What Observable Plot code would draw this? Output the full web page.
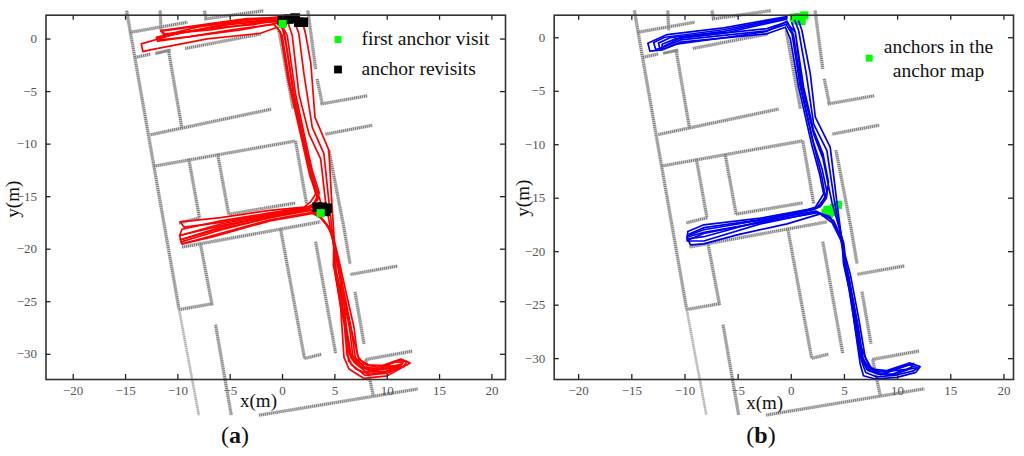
<!DOCTYPE html>
<html>
<head>
<meta charset="utf-8">
<script src="https://cdn.jsdelivr.net/npm/d3@7"></script>
<script src="https://cdn.jsdelivr.net/npm/@observablehq/plot@0.6"></script>
<style>
  html,body{margin:0;padding:0;background:#fff;}
  #fig{display:flex;width:1024px;height:456px;overflow:hidden;}
  .panel{width:512px;flex:none;}
  .panel svg{display:block;overflow:visible;}
  .cap{font-family:"Liberation Serif",serif;font-size:24px;color:#111;height:36px;line-height:30px;position:relative;}
  .cap span{position:absolute;transform:translateX(-50%);top:0;}
</style>
</head>
<body>
<div id="fig"><div class="panel" id="a"></div><div class="panel" id="b"></div></div>
<script>
// axis ticks
const xTicks = [-20,-15,-10,-5,0,5,10,15,20];
const yTicks = [0,-5,-10,-15,-20,-25,-30];

// walls of the map, read in panel (a) units
const walls = [
  [[-14.9,2.7],[-9.9,-25.65]],
  [[-14.6,0.63],[-9.1,1.6]],
  [[-11.7,2.7],[-11.6,0.8]],
  [[-7.46,2.7],[-7.3,1.9]],
  [[-7.46,1.9],[-1.8,2.7]],
  [[-9.3,-0.9],[-2.1,0.48]],
  [[-14.07,-1.75],[-12.6,-1.43]],
  [[-10.9,-1.05],[-9.6,-8.57]],
  [[-12.6,-9.1],[-1.08,-6.67]],
  [[-0.35,0.8],[1.02,-6.67]],
  [[2.42,2.7],[3.16,-2.86]],
  [[3.3,-3.8],[3.8,-6.2]],
  [[3.64,-6.19],[8.1,-5.4]],
  [[4.1,-9.05],[8.6,-8.2]],
  [[-12.3,-12.1],[1.24,-9.7]],
  [[1.24,-9.7],[2.3,-15.7]],
  [[-8.96,-11.4],[-7.94,-17]],
  [[-6.2,-10.95],[-5.14,-16.7]],
  [[-5.14,-16.67],[1.24,-15.6]],
  [[-9.9,-17.5],[-7.85,-17]],
  [[4.43,-10.6],[5.87,-18],[6.44,-21.36]],
  [[-9.6,-19.8],[3.6,-17.4]],
  [[-0.2,-18.03],[2.1,-30.4]],
  [[2.1,-30.4],[3.7,-30]],
  [[3.16,-19.3],[5.07,-29.9]],
  [[6.5,-22.4],[11,-21.6]],
  [[6.92,-24.06],[7.78,-29]],
  [[-7.85,-19.46],[-6.73,-25.33]],
  [[-9.9,-25.75],[-6.73,-25.2]],
  [[-6.4,-27.2],[-4.9,-35.8]],
  [[7.94,-30.5],[12.4,-29.7]],
  [[7.94,-30.5],[8.68,-34]],
  [[-2.26,-35.8],[12.9,-33.3]]
];
const wallsFaint = [
  [[-9.9,-25.65],[-8,-35.8]]
];
const wallsDark = [
  [[-12.15,-1.37],[-10.7,-1.05]]
];

// panel (a) trajectory passes
const redPass1 = [[-0.51,1.89],[-4.98,1.51],[-10.4,0.43],[-13.5,-0.46],[-13.34,-1.19],[-12.64,-1.03],[-7.2,0.02],[-2.1,0.55],[-0.51,1.13],[-0.03,0.33],[0.77,-4.6],[1.88,-9.35],[3,-14.1],[3.16,-14.74],[2.68,-15.5],[2.04,-16],[-1.2,-16.3],[-5.9,-17],[-9.76,-17.4],[-9.4,-17.9],[-5.9,-17.45],[-1.2,-16.65],[2.5,-16.1],[3.3,-16.65],[4.27,-17.76],[4.91,-19.03],[5.07,-20.6],[5.07,-22.36],[5.55,-25.54],[5.87,-30.3],[6.35,-31.4],[7.78,-32.3],[10,-32.05],[11.9,-31],[12.2,-30.84],[11.3,-30.46],[9.06,-31.25],[7.78,-30.94],[7.15,-30.14],[6.83,-27.45],[6.03,-23.95],[5.4,-21.1],[4.95,-19.2],[4.7,-15.5],[4.43,-10.6],[3.1,-7.45],[2.7,-2.3],[2.2,0.5],[1.9,1.6]];
const redPass2 = [[-0.51,2.08],[-3.39,1.83],[-8.17,1.13],[-12.06,0.17],[-11.93,-0.21],[-8.17,0.33],[-4.02,0.87],[-0.51,1.51],[0.1,1],[0.45,0.33],[1.24,-5.2],[2.2,-9.67],[2.84,-12.5],[3.5,-14.6],[3.3,-15.4],[2.5,-16],[-1.2,-16.55],[-5.9,-17.3],[-9.6,-18.1],[-9.83,-18.7],[-5.9,-17.75],[-1.2,-16.9],[2.6,-16.2],[3.5,-16.8],[4.4,-17.9],[4.85,-19.2],[5,-21],[5.1,-22],[5.75,-25.5],[6.15,-30],[6.6,-31],[7.9,-32],[10,-31.8],[11.6,-31.1],[11.9,-30.7],[11.1,-30.6],[9.2,-31.4],[7.8,-31.2],[6.95,-30.3],[6.55,-27.5],[5.85,-24],[5.3,-21],[4.85,-19.2],[4.43,-15.5],[3.95,-10.9],[2.84,-8.4],[2.04,-3.3],[1.56,0.5],[1.2,1.5]];
const redPass3 = [[-0.51,2.01],[-3.39,1.95],[-6.58,1.51],[-11.62,0.81],[-11.36,0.43],[-6.58,1.06],[-2.75,1.38],[-0.51,1.76],[0.05,1.1],[0.2,0.5],[1,-5],[2.05,-10],[2.9,-13.5],[3.3,-15],[2.9,-15.8],[2.3,-16],[-1.2,-16.75],[-5.9,-17.6],[-9.8,-18.7],[-9.76,-19.1],[-5.9,-18.05],[-1.2,-17],[2.7,-16.3],[3.6,-16.9],[4.5,-18],[4.85,-19.2],[5,-21],[5.05,-21.8],[5.9,-25.5],[6.35,-29.8],[6.85,-30.8],[8,-31.7],[9.9,-31.6],[11.3,-31.1],[11.5,-30.8],[10.6,-30.7],[9,-31.5],[7.6,-31.3],[6.75,-30.4],[6.4,-27.5],[5.7,-24],[5.15,-21],[4.8,-19.2],[4.11,-15.5],[3.64,-11.4],[2.52,-9.03],[1.56,-5.2],[0.93,0.33],[0.5,1.6]];
const redPass4 = [[-0.51,1.95],[-4.02,1.76],[-8.81,1.13],[-11.62,0.75],[-11.23,0.49],[-6.9,0.87],[-1.79,1.64],[-0.51,1.63],[0.02,0.9],[0.3,-0.3],[1.1,-5.2],[2.3,-10.6],[3.1,-13.8],[3.64,-15.5],[3,-16],[2.5,-16.1],[-1.2,-16.85],[-5.9,-17.9],[-9.76,-19.1],[-9.6,-19.5],[-6,-18.5],[-1.2,-17.2],[2.8,-16.5],[3.7,-17],[4.6,-18.2],[4.9,-19.5],[4.85,-21.5],[5.4,-24],[6,-27],[6.55,-30],[7.1,-30.6],[8.2,-31.5],[10,-31.4],[11,-31.1],[11.3,-30.95],[10.2,-31.2],[8.6,-31.65],[7.3,-31.1],[6.5,-30.3],[5.6,-25],[4.85,-21.5]];
const redPass5 = [[-0.51,1.8],[-5,1.4],[-9,0.7],[-12,0.1],[-11.9,-0.1],[-9,0.2],[-5,0.85],[-0.8,1.4],[-0.2,0.6],[0.55,-4],[1.7,-9],[2.6,-13],[3.4,-15.2],[2.8,-15.9],[2.5,-16.2],[-1.2,-17],[-6,-18.2],[-9.7,-19.3],[-9.6,-19.5],[-6.6,-18.8],[-1.2,-17.3],[2.9,-16.6],[3.8,-17.1],[4.7,-18.4],[4.95,-20],[5.05,-22.5],[5.65,-26],[6.1,-28],[6.3,-30.6],[7,-31.4],[8.3,-31.9],[10,-31.65],[11.2,-31.3],[11.5,-31.2],[10,-31.1],[8.2,-31],[7.3,-30.5],[6.65,-28],[5.7,-24],[5.2,-20.5]];

// panel (b) trajectory passes
const bluePass1 = [[-0.41,1.99],[-6.36,0.93],[-11.68,0.3],[-13.49,-0.51],[-13.3,-1.25],[-12.15,-1.13],[-10.42,-0.41],[-2.29,0.37],[-0.56,0.99],[-0.09,-0.1],[0.69,-4.62],[1.94,-10.08],[2.66,-12.73],[3.04,-14.6],[2.26,-15.85],[1.6,-16.05],[-2.91,-16.87],[-8.23,-17.49],[-9.73,-18.12],[-9.79,-18.8],[-8.23,-18.6],[-2.9,-17.15],[2.3,-16.2],[3.98,-17.09],[4.92,-19.12],[5.07,-20.36],[5.54,-22.08],[6.32,-26.13],[6.95,-29.87],[7.57,-30.97],[8.98,-31.12],[11.17,-30.4],[12.11,-30.75],[11.73,-31.28],[9.92,-31.75],[7.9,-31.9],[6.79,-31.6],[6.48,-30.5],[6.16,-28.3],[5.54,-23.95],[4.91,-21.14],[4.76,-18.96],[4.29,-15.38],[3.66,-10.23],[2.26,-7.43],[1.79,-3.37],[1,0.68],[0.7,1.55]];
const bluePass2 = [[-0.45,1.9],[-6.4,0.75],[-11.9,0.05],[-12.95,-0.45],[-12.75,-1.1],[-12.2,-0.95],[-10.4,-0.2],[-2.3,0.65],[-0.5,1.25],[0.07,0.37],[0.85,-4.62],[1.94,-9.3],[2.88,-13.04],[3.2,-14.91],[2.57,-15.7],[1.94,-16],[-2.91,-17.05],[-8.23,-17.95],[-9.79,-18.5],[-9.79,-19],[-8.23,-19],[-2.9,-17.4],[2.4,-16.3],[3.7,-16.85],[4.8,-18.9],[5,-20.5],[5.45,-22.5],[6.15,-26.5],[6.7,-29.9],[7.35,-31],[9,-31.3],[11,-30.55],[11.9,-30.85],[11.5,-31.15],[9.8,-31.55],[8,-31.7],[7,-31.3],[6.6,-30.2],[6.2,-27.5],[5.6,-24],[5,-21.2],[4.8,-19],[4.07,-15.38],[3.35,-10.55],[2.1,-8.05],[1.41,-3.37],[0.69,0.68],[0.35,1.6]];
const bluePass3 = [[-0.41,1.85],[-6.3,0.6],[-11.4,0],[-12.5,-0.5],[-12.35,-1.05],[-11.9,-0.75],[-10.4,0],[-2.3,0.85],[-0.5,1.45],[0.38,0.52],[1.16,-4.62],[2.1,-8.67],[2.98,-10.86],[3.5,-13.5],[3.3,-15],[2.7,-15.8],[2.1,-16.06],[-2.91,-17.25],[-8.23,-18.3],[-9.7,-18.9],[-9.48,-19.36],[-8.23,-19.27],[-5.1,-18.43],[-0.4,-17.4],[2.73,-16.47],[3.85,-17.3],[4.85,-19.3],[5.05,-21],[5.35,-23],[6,-27],[6.45,-29.7],[7.1,-31],[8.4,-31.5],[10.6,-30.75],[11.5,-30.45],[11.2,-30.95],[9.8,-31.45],[8.2,-31.45],[7.2,-31.1],[6.75,-30],[6.3,-27],[5.7,-24],[5.05,-21.5],[4.85,-19],[3.82,-15.38],[2.98,-11.3],[2.1,-9],[1,-4.5],[0.38,0.52],[0.05,1.4]];
const bluePass4 = [[-0.45,1.75],[-6.2,0.45],[-10.9,-0.1],[-12.15,-0.6],[-12.15,-1.1],[-10.8,-0.6],[-6,0.05],[-2.3,0.6],[-0.4,1.55],[0.2,0.3],[1,-5],[2.05,-9.7],[2.9,-12.3],[3.35,-14.4],[2.85,-15.6],[2.2,-16],[-2.9,-17],[-8.2,-17.75],[-9.6,-18.35],[-9.7,-18.6],[-8.2,-18.2],[-3,-17.3],[2.5,-16.35],[3.6,-16.7],[4.6,-18.6],[4.95,-20.4],[5.25,-22],[5.8,-25],[6.3,-29],[6.9,-30.4],[7.9,-31.25],[9.2,-31.55],[11.2,-30.85],[11.7,-30.9],[10,-31.1],[8.2,-31.2],[7.3,-30.7],[6.4,-28.5],[5.5,-23],[4.9,-20]];

const firstAnchorX = [0, 3.64];
const firstAnchorY = [1.43, -16.57];
const revisitX = [-0.03,0.6,1.2,1.56,1.98,3.3,3.8,4.27,4.1];
const revisitY = [1.75,1.9,2.0,1.6,1.6,-16,-16,-16.1,-16.4];
const blueAnchorX = [0.25,0.66,0.97,1.22,0.41,0.8,3.69,4,4.38,3.22,3.54,3.85,3.4];
const blueAnchorY = [1.87,1.93,1.56,2.09,1.62,1.8,-16.09,-15.9,-15.62,-16.37,-16.46,-16.3,-16.1];

const GREEN = "#00ff00";
const serif = "Liberation Serif";

const toRows = list => list.flatMap((path,i)=>path.map(p=>({x:p[0],y:p[1],z:i})));
const zip = (xs,ys) => xs.map((x,i)=>({x,y:ys[i]}));

function inwardTicks(xDom,yDom,w,h){
  const ky=5*(yDom[1]-yDom[0])/h, kx=5*(xDom[1]-xDom[0])/w;
  const tick={stroke:"#222",strokeWidth:1.3};
  return [
    Plot.ruleX(xTicks,{y1:yDom[0],y2:yDom[0]+ky,...tick}),
    Plot.ruleX(xTicks,{y1:yDom[1],y2:yDom[1]-ky,...tick}),
    Plot.ruleY(yTicks,{x1:xDom[0],x2:xDom[0]+kx,...tick}),
    Plot.ruleY(yTicks,{x1:xDom[1],x2:xDom[1]-kx,...tick})
  ];
}

function wallMarks(map){
  const m=l=>toRows(l.map(w=>w.map(map)));
  const base={x:"x",y:"y",z:"z",strokeLinecap:"butt",strokeLinejoin:"miter"};
  return [
    Plot.line(m(wallsFaint),{...base,stroke:"#dcdcdc",strokeWidth:2.8}),
    Plot.line(m(wallsFaint),{...base,stroke:"#a8a8a8",strokeWidth:2.2,strokeDasharray:"1 1"}),
    Plot.line(m(walls),{...base,stroke:"#cfcfcf",strokeWidth:3.6}),
    Plot.line(m(walls),{...base,stroke:"#7c7c7c",strokeWidth:2.8,strokeDasharray:"1 1"}),
    Plot.line(m(wallsDark),{...base,stroke:"#8c8c8c",strokeWidth:3})
  ];
}

function build(cfg){
  const {xDom,yDom,ml,mr,marks}=cfg;
  const H=420, mt=14.7, mb=41;
  return Plot.plot({
    width:512,height:H,
    marginLeft:ml,marginRight:mr,marginTop:mt,marginBottom:mb,
    x:{domain:xDom,ticks:xTicks},
    y:{domain:yDom,ticks:yTicks},
    style:{background:"transparent",overflow:"visible"},
    marks:[
      ...wallMarks(cfg.map),
      ...marks,
      ...inwardTicks(xDom,yDom,512-ml-mr,H-mt-mb),
      Plot.axisX(xTicks,{anchor:"bottom",tickSize:0,tickPadding:6,color:"#555",fontSize:13,fontFamily:serif,label:null}),
      Plot.axisY(yTicks,{anchor:"left",tickSize:0,tickPadding:9,color:"#555",fontSize:13,fontFamily:serif,label:null}),
      Plot.frame({stroke:"#333",strokeWidth:1.6}),
      ...cfg.labels
    ]
  });
}

const xDomA=[-22.6,21.3], yDomA=[-32.4,2.27];
const xDomB=[-22.3,20.9], yDomB=[-31.95,2.11];

const redRows = toRows([redPass1,redPass2,redPass3,redPass4,redPass5]);
const blueRows = toRows([bluePass1,bluePass2,bluePass3,bluePass4]);

const labelStyle={fontFamily:serif,fill:"#111",stroke:"none"};

const plotA = build({
  xDom:xDomA,yDom:yDomA,ml:45.5,mr:7,
  map:p=>p,
  marks:[
    Plot.line(redRows,{x:"x",y:"y",z:"z",stroke:"#ff0000",strokeWidth:1.7,strokeLinejoin:"round"}),
    Plot.dot(zip(revisitX,revisitY),{x:"x",y:"y",symbol:"square",r:5.4,fill:"#000",stroke:"none"}),
    Plot.dot(zip(firstAnchorX,firstAnchorY),{x:"x",y:"y",symbol:"square",r:4.6,fill:GREEN,stroke:"none"})
  ],
  labels:[
    Plot.dot([0],{frameAnchor:"top-left",dx:292,dy:24.3,symbol:"square",r:3.9,fill:GREEN,stroke:"none"}),
    Plot.dot([0],{frameAnchor:"top-left",dx:292,dy:54.3,symbol:"square",r:4.4,fill:"#000",stroke:"none"}),
    Plot.text(["first anchor visit"],{frameAnchor:"top-left",dx:315.5,dy:24,textAnchor:"start",lineAnchor:"middle",fontSize:19.5,...labelStyle}),
    Plot.text(["anchor revisits"],{frameAnchor:"top-left",dx:315.5,dy:54,textAnchor:"start",lineAnchor:"middle",fontSize:19.5,...labelStyle}),
    Plot.text(["x(m)"],{frameAnchor:"top-left",dx:212.5,dy:386,textAnchor:"middle",lineAnchor:"middle",fontSize:19,...labelStyle}),
    Plot.text(["y(m)"],{frameAnchor:"top-left",dx:-33.5,dy:184,rotate:-90,textAnchor:"middle",lineAnchor:"middle",fontSize:19,...labelStyle})
  ]
});
document.getElementById("a").append(plotA);

// the map was drawn at the same pixel size in both panels, while the ticks of (b) are slightly finer
const toB = p=>[(p[0]*10.45-1.5)/10.65,(p[1]*10.5-1.2)/10.69];
const plotB = build({
  xDom:xDomB,yDom:yDomB,ml:41.7,mr:11,
  map:toB,
  marks:[
    Plot.dot(zip(blueAnchorX,blueAnchorY),{x:"x",y:"y",symbol:"square",r:4.6,fill:GREEN,stroke:"none"}),
    Plot.line(blueRows,{x:"x",y:"y",z:"z",stroke:"#0000f0",strokeWidth:1.7,strokeLinejoin:"round"})
  ],
  labels:[
    Plot.dot([0],{frameAnchor:"top-left",dx:315,dy:43,symbol:"square",r:3.9,fill:GREEN,stroke:"none"}),
    Plot.text(["anchors in the"],{frameAnchor:"top-left",dx:384.3,dy:31.5,textAnchor:"middle",lineAnchor:"middle",fontSize:19.5,...labelStyle}),
    Plot.text(["anchor map"],{frameAnchor:"top-left",dx:384.3,dy:55.5,textAnchor:"middle",lineAnchor:"middle",fontSize:19.5,...labelStyle}),
    Plot.text(["x(m)"],{frameAnchor:"top-left",dx:210.5,dy:388,textAnchor:"middle",lineAnchor:"middle",fontSize:19,...labelStyle}),
    Plot.text(["y(m)"],{frameAnchor:"top-left",dx:-31.5,dy:183,rotate:-90,textAnchor:"middle",lineAnchor:"middle",fontSize:19,...labelStyle})
  ]
});
document.getElementById("b").append(plotB);

function caption(id,letter,cx){
  const c=document.createElement("div"); c.className="cap";
  const s=document.createElement("span"); s.style.left=cx+"px";
  s.append("(");
  const b=document.createElement("b"); b.textContent=letter; s.append(b);
  s.append(")");
  c.append(s); document.getElementById(id).append(c);
}
caption("a","a",235);
caption("b","b",249);
</script>
</body>
</html>
